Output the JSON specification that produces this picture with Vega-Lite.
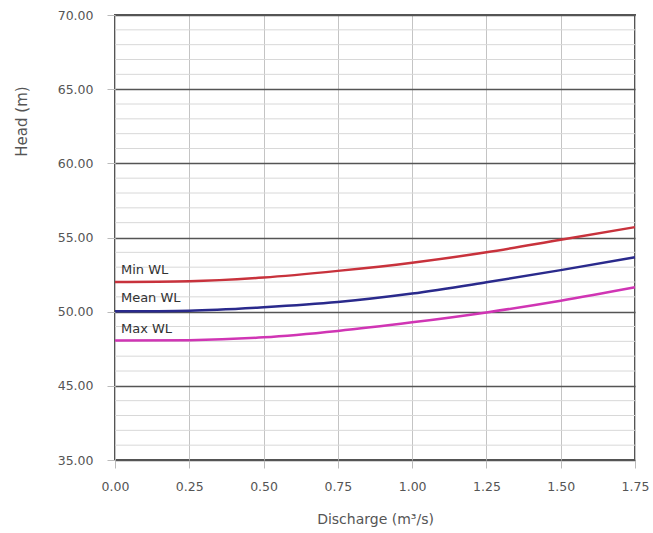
{
  "$schema": "https://vega.github.io/schema/vega-lite/v6.json",
  "width": 520,
  "height": 445,
  "autosize": "none",
  "padding": {"left": 115, "top": 15, "right": 18, "bottom": 73},
  "background": "white",
  "config": {
    "view": {"stroke": "#555555", "strokeWidth": 2},
    "font": "DejaVu Sans",
    "axis": {"labelFont": "DejaVu Sans", "titleFont": "DejaVu Sans", "labelColor": "#555555", "titleColor": "#555555", "labelFontSize": 12.5, "titleFontSize": 14, "titleFontWeight": "normal", "domain": false, "tickColor": "#bbbbbb", "tickSize": 8}
  },
  "datasets": {
    "curves": [
      {"q": 0.0, "head": 52.0, "series": "Min WL"},
      {"q": 0.25, "head": 52.05, "series": "Min WL"},
      {"q": 0.5, "head": 52.3, "series": "Min WL"},
      {"q": 0.75, "head": 52.75, "series": "Min WL"},
      {"q": 1.0, "head": 53.3, "series": "Min WL"},
      {"q": 1.25, "head": 54.0, "series": "Min WL"},
      {"q": 1.5, "head": 54.85, "series": "Min WL"},
      {"q": 1.75, "head": 55.7, "series": "Min WL"},
      {"q": 0.0, "head": 50.02, "series": "Mean WL"},
      {"q": 0.25, "head": 50.07, "series": "Mean WL"},
      {"q": 0.5, "head": 50.3, "series": "Mean WL"},
      {"q": 0.75, "head": 50.65, "series": "Mean WL"},
      {"q": 1.0, "head": 51.22, "series": "Mean WL"},
      {"q": 1.25, "head": 51.98, "series": "Mean WL"},
      {"q": 1.5, "head": 52.8, "series": "Mean WL"},
      {"q": 1.75, "head": 53.67, "series": "Mean WL"},
      {"q": 0.0, "head": 48.05, "series": "Max WL"},
      {"q": 0.25, "head": 48.08, "series": "Max WL"},
      {"q": 0.5, "head": 48.27, "series": "Max WL"},
      {"q": 0.75, "head": 48.7, "series": "Max WL"},
      {"q": 1.0, "head": 49.28, "series": "Max WL"},
      {"q": 1.25, "head": 49.95, "series": "Max WL"},
      {"q": 1.5, "head": 50.74, "series": "Max WL"},
      {"q": 1.75, "head": 51.64, "series": "Max WL"}
    ],
    "labels": [
      {"q": 0.02, "head": 52.8, "series": "Min WL"},
      {"q": 0.02, "head": 50.9, "series": "Mean WL"},
      {"q": 0.02, "head": 48.85, "series": "Max WL"}
    ],
    "minor": [
      {"h": 41}, {"h": 42}, {"h": 43}, {"h": 44},
      {"h": 46}, {"h": 47}, {"h": 48}, {"h": 49},
      {"h": 51}, {"h": 52}, {"h": 53}, {"h": 54},
      {"h": 56}, {"h": 57}, {"h": 58}, {"h": 59},
      {"h": 61}, {"h": 62}, {"h": 63}, {"h": 64},
      {"h": 66}, {"h": 67}, {"h": 68}, {"h": 69}
    ]
  },
  "layer": [
    {
      "data": {"name": "minor"},
      "mark": {"type": "rule", "color": "#d8d8d8", "strokeWidth": 1},
      "encoding": {
        "y": {"field": "h", "type": "quantitative", "scale": {"domain": [40, 70]}}
      }
    },
    {
      "data": {"name": "curves"},
      "mark": {"type": "line", "interpolate": "monotone", "strokeWidth": 2.5},
      "encoding": {
        "x": {
          "field": "q", "type": "quantitative",
          "scale": {"domain": [0, 1.75], "nice": false},
          "axis": {"title": "Discharge (m³/s)", "values": [0, 0.25, 0.5, 0.75, 1.0, 1.25, 1.5, 1.75], "format": ".2f", "labelFlush": false, "grid": true, "gridColor": "#c4c4c4", "gridWidth": 1, "labelPadding": 12, "titlePadding": 20}
        },
        "y": {
          "field": "head", "type": "quantitative",
          "scale": {"domain": [40, 70], "nice": false, "zero": false},
          "axis": {"title": "Head (m)", "values": [40, 45, 50, 55, 60, 65, 70], "labelExpr": "datum.value == 40 ? '35.00' : format(datum.value, '.2f')", "grid": true, "gridColor": "#555555", "gridWidth": 1.5, "labelPadding": 14, "titleFontSize": 15, "titleX": -86, "titleY": 106}
        },
        "color": {
          "field": "series", "type": "nominal",
          "scale": {"domain": ["Min WL", "Mean WL", "Max WL"], "range": ["#c8323c", "#2a2a8c", "#d035b4"]},
          "legend": null
        },
        "detail": {"field": "series"}
      }
    },
    {
      "data": {"name": "labels"},
      "mark": {"type": "text", "align": "left", "baseline": "middle", "fontSize": 13, "color": "#333333", "font": "DejaVu Sans"},
      "encoding": {
        "x": {"field": "q", "type": "quantitative"},
        "y": {"field": "head", "type": "quantitative"},
        "text": {"field": "series"}
      }
    }
  ]
}
